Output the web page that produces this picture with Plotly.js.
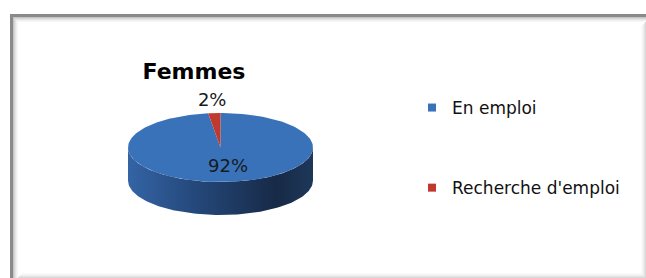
<!DOCTYPE html>
<html>
<head>
<meta charset="utf-8">
<script src="https://cdn.plot.ly/plotly-3.0.1.min.js"></script>
<style>
html,body{margin:0;padding:0;background:#fff;}
#chart{width:646px;height:278px;}
</style>
</head>
<body>
<div id="chart"></div>
<script>
// ---- data ----
var chartTitle = 'Femmes';
var categories = ['En emploi', "Recherche d'emploi"];
var values = [92, 2];            // percent shown on the slices
var labels = ['92%', '2%'];

// ---- style / geometry (pixel-like axis units) ----
var topColors = ['#3a72b9', '#c0392f'];
var sideScales = [
  [[0,'#3464a5'],[0.35,'#25497c'],[0.8,'#172a47'],[1,'#1e3759']],
  [[0,'#a83530'],[0.5,'#7a2220'],[1,'#5a1816']]
];
var CX = 220.5, CY = 147.5, RX = 92.5, RY = 34.5, DEPTH = 33;
var FONT = 'DejaVu Sans';

function pt(theta, dy) {
  var r = theta * Math.PI / 180;
  return [CX + RX * Math.sin(r), CY - RY * Math.cos(r) + (dy || 0)];
}
function arc(t1, t2, dy) {
  var n = Math.max(2, Math.ceil(Math.abs(t2 - t1) / 1.5));
  var xs = [], ys = [];
  for (var i = 0; i <= n; i++) {
    var p = pt(t1 + (t2 - t1) * i / n, dy);
    xs.push(p[0]); ys.push(p[1]);
  }
  return {x: xs, y: ys};
}

var total = values.reduce(function(a, b){ return a + b; }, 0);
var traces = [];
var sideTraces = [], topTraces = [];
var labelX = [], labelY = [];
var start = 0;
values.forEach(function(v, i) {
  var span = v / total * 360;
  var t1 = start, t2 = start + span;
  // side wall (front half only: 90..270 deg)
  var s = Math.max(t1, 90), e = Math.min(t2, 270);
  if (e > s) {
    var upper = arc(s, e, 0), lower = arc(e, s, DEPTH);
    sideTraces.push({
      type: 'scatter', mode: 'lines',
      x: upper.x.concat(lower.x), y: upper.y.concat(lower.y),
      fill: 'toself', line: {width: 0},
      fillgradient: {type: 'horizontal', colorscale: sideScales[i]},
      fillcolor: topColors[i],
      hoverinfo: 'skip', showlegend: false
    });
  }
  // top face
  var a = arc(t1, t2, 0);
  topTraces.push({
    type: 'scatter', mode: 'lines',
    x: [CX].concat(a.x).concat([CX]), y: [CY].concat(a.y).concat([CY]),
    fill: 'toself', fillcolor: topColors[i], line: {width: 0, color: topColors[i]},
    hoverinfo: 'text', text: categories[i] + ': ' + labels[i], showlegend: false
  });
  // label position
  var mid = (t1 + t2) / 2;
  var f = (v / total > 0.1) ? 0.58 : 1.35;
  var r = mid * Math.PI / 180;
  labelX.push(CX + f * RX * Math.sin(r) + (v / total > 0.1 ? 4 : 0));
  labelY.push(CY - f * RY * Math.cos(r));
  start = t2;
});
traces = traces.concat(sideTraces, topTraces);
traces.push({
  type: 'scatter', mode: 'text', x: labelX, y: labelY, text: labels,
  textfont: {family: FONT, size: 18, color: '#151a22'},
  hoverinfo: 'skip', showlegend: false
});
// legend entries
categories.forEach(function(c, i) {
  traces.push({
    type: 'scatter', mode: 'markers', x: [null], y: [null], name: c,
    legendgroup: 'g' + i,
    marker: {symbol: 'square', size: 8, color: topColors[i]}
  });
});

// frame shapes
var shapes = [];
// inner bevel shading
var bevel = [['#c4c4c4',0],['#d6d6d6',1],['#e4e4e4',2],['#efefef',3],['#f7f7f7',4]];
var bevelR = [['#d8d8d8',0],['#e4e4e4',1],['#eeeeee',2],['#f5f5f5',3],['#fafafa',4]];
bevel.forEach(function(b) {
  var k = b[1];
  shapes.push({type:'line', xref:'x', yref:'y', x0:13.5+k, x1:13.5+k, y0:17+k, y1:278, line:{color:b[0], width:1}, layer:'below'});
  shapes.push({type:'line', xref:'x', yref:'y', x0:13+k, x1:646, y0:17.5+k, y1:17.5+k, line:{color:b[0], width:1}, layer:'below'});
});
bevelR.forEach(function(b) {
  var k = b[1];
  shapes.push({type:'line', xref:'x', yref:'y', x0:645.5-k, x1:645.5-k, y0:22+k, y1:278-k, line:{color:b[0], width:1}, layer:'below'});
  shapes.push({type:'line', xref:'x', yref:'y', x0:18+k, x1:646-k, y0:277.5-k, y1:277.5-k, line:{color:b[0], width:1}, layer:'below'});
});
shapes.push({type:'line', xref:'x', yref:'y', x0:11.5, x1:11.5, y0:14.5, y1:278, line:{color:'#8a8a8a', width:3}});
shapes.push({type:'line', xref:'x', yref:'y', x0:10, x1:646, y0:15.5, y1:15.5, line:{color:'#8a8a8a', width:3}});

var layout = {
  width: 646, height: 278,
  margin: {l:0, r:0, t:0, b:0, pad:0},
  paper_bgcolor: '#ffffff', plot_bgcolor: '#ffffff',
  xaxis: {range:[0,646], visible:false, fixedrange:true},
  yaxis: {range:[278,0], visible:false, fixedrange:true},
  title: {text: chartTitle, x: 194/646, xanchor:'center', y: 1 - 71/278, yanchor:'middle',
          font: {family: FONT, size: 22, color: '#000', weight: 'bold'}},
  showlegend: true,
  legend: {x: 412/646, xanchor:'left', y: 1 - 90/278, yanchor:'top',
           font: {family: FONT, size: 17, color: '#111'},
           tracegroupgap: 55, bgcolor:'rgba(0,0,0,0)', traceorder:'grouped'},
  shapes: shapes,
  hovermode: 'closest'
};
Plotly.newPlot('chart', traces, layout, {displayModeBar:false, staticPlot:false});
</script>
</body>
</html>
